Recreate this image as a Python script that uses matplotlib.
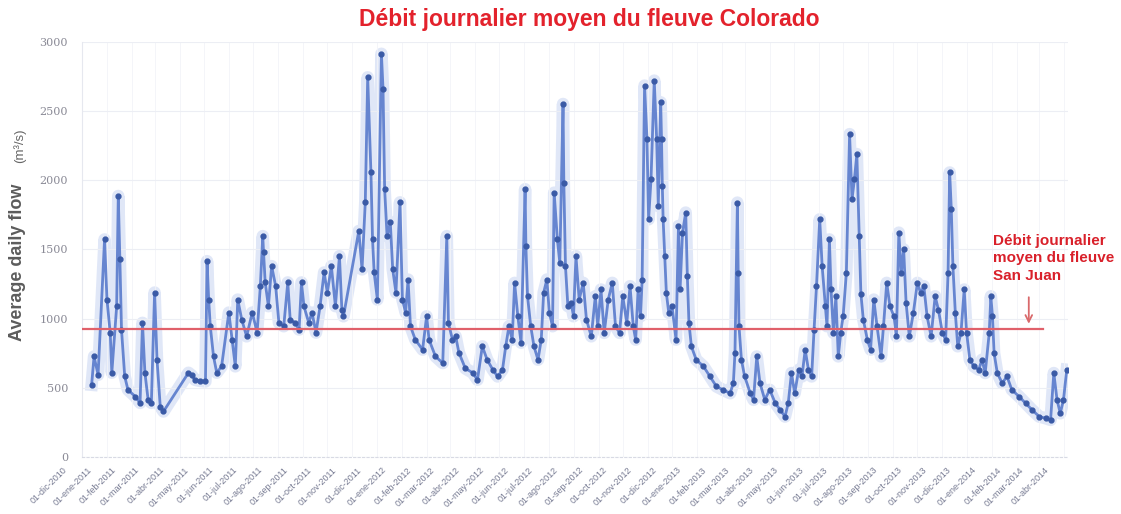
import matplotlib
matplotlib.use("Agg")
import matplotlib.pyplot as plt
import matplotlib.transforms as mtransforms
import pandas as pd

# Daily mean flow of the Colorado river, days counted from 1 Dec 2010
start = pd.Timestamp("2010-12-01")
flow_days = [
    12, 15, 20, 28, 31, 35, 37, 43, 45, 47, 49, 53, 57, 66, 72, 75, 78, 82, 86, 90,
    93, 97, 101, 132, 136, 140, 146, 153, 155, 157, 159, 163, 167, 173, 182, 186, 190, 193, 198, 204,
    211, 217, 221, 224, 225, 227, 231, 235, 240, 244, 250, 255, 258, 264, 269, 272, 275, 281, 285, 290,
    295, 300, 304, 309, 314, 319, 322, 324, 343, 347, 351, 354, 358, 360, 362, 366, 371, 373, 375, 378,
    382, 385, 389, 394, 397, 401, 404, 407, 413, 422, 427, 430, 438, 447, 452, 454, 459, 463, 467, 475,
    484, 490, 496, 502, 509, 515, 521, 525, 529, 533, 536, 540, 544, 549, 550, 552, 556, 560, 565, 569,
    572, 576, 579, 583, 585, 589, 592, 596, 597, 599, 602, 606, 609, 612, 616, 621, 625, 631, 636, 639,
    643, 647, 652, 657, 661, 666, 670, 675, 679, 683, 686, 689, 692, 694, 697, 700, 702, 705, 709, 712,
    714, 717, 718, 719, 720, 722, 724, 727, 731, 736, 739, 741, 744, 748, 750, 752, 755, 761, 770, 778,
    786, 794, 803, 807, 809, 812, 813, 814, 817, 821, 828, 832, 836, 840, 846, 852, 859, 865, 871, 875,
    879, 883, 888, 892, 896, 900, 904, 907, 910, 914, 917, 921, 923, 926, 928, 931, 934, 937, 940, 943,
    947, 951, 954, 957, 960, 963, 965, 968, 973, 977, 981, 985, 990, 993, 997, 1001, 1006, 1009, 1012, 1015,
    1018, 1021, 1025, 1030, 1035, 1039, 1043, 1047, 1052, 1057, 1061, 1066, 1070, 1073, 1075, 1077, 1079, 1082, 1085, 1089,
    1093, 1096, 1100, 1105, 1111, 1115, 1119, 1124, 1126, 1128, 1130, 1134, 1140, 1146, 1152, 1161, 1169, 1177, 1186, 1194,
    1200, 1204, 1208, 1212, 1216, 1220,
]
flow_values = [
    522, 727, 594, 1573, 1138, 899, 609, 1088, 1887, 1428, 921, 582, 486, 437, 391, 970, 609, 413, 391, 1189,
    703, 365, 329, 609, 590, 558, 550, 546, 1416, 1138, 945, 727, 609, 655, 1044, 848, 655, 1138, 993, 872,
    1044, 899, 1235, 1597, 1479, 1262, 1090, 1380, 1235, 970, 945, 1262, 993, 970, 921, 1262, 1090, 970, 1044, 899,
    1090, 1334, 1189, 1380, 1090, 1452, 1066, 1017, 1634, 1356, 1841, 2745, 2059, 1573, 1334, 1138, 2915, 2661, 1936, 1597,
    1697, 1356, 1189, 1841, 1138, 1044, 1283, 945, 848, 776, 1017, 848, 727, 679, 1597, 970, 848, 872, 754, 640,
    609, 558, 800, 703, 631, 582, 631, 800, 945, 848, 1259, 1017, 826, 1936, 1525, 1162, 945, 800, 703, 848,
    1189, 1283, 1044, 945, 1911, 1573, 1404, 2552, 1984, 1380, 1090, 1114, 1017, 1452, 1138, 1259, 993, 872, 1162, 945,
    1211, 897, 1138, 1259, 945, 897, 1162, 969, 1235, 945, 848, 1211, 1017, 1283, 2685, 2298, 1718, 2008, 2721, 2298,
    1815, 2564, 2298, 1960, 1718, 1452, 1186, 1041, 1090, 848, 1670, 1211, 1622, 1767, 1307, 969, 800, 703, 655, 582,
    510, 486, 461, 534, 752, 1839, 1332, 945, 703, 582, 461, 413, 727, 534, 413, 486, 389, 341, 292, 389,
    607, 461, 631, 582, 776, 631, 582, 921, 1235, 1718, 1380, 1090, 945, 1573, 1211, 897, 1162, 727, 897, 1017,
    1332, 2334, 1863, 2008, 2190, 1600, 1180, 993, 848, 776, 1138, 945, 727, 945, 1259, 1090, 1017, 872, 1622, 1332,
    1501, 1114, 872, 1041, 1259, 1186, 1235, 1017, 872, 1162, 1066, 897, 848, 1332, 2057, 1791, 1380, 1041, 800, 897,
    1211, 897, 703, 655, 631, 703, 607, 897, 1162, 1017, 752, 607, 534, 582, 486, 437, 389, 341, 292, 280,
    268, 607, 413, 316, 413, 631,
]

# Mean daily flow of the San Juan river (reference line)
san_juan_mean = 925
san_juan_end = "2014-03-05"
arrow_day = "2014-02-16"
arrow_from, arrow_to = 1175, 943

months_es = ["ene", "feb", "mar", "abr", "may", "jun",
             "jul", "ago", "sep", "oct", "nov", "dic"]
yticks = [0, 500, 1000, 1500, 2000, 2500, 3000]

dates = start + pd.to_timedelta(flow_days, unit="D")
month_ticks = pd.date_range("2010-12-01", "2014-04-01", freq="MS")
tick_labels = ["01-%s-%d" % (months_es[d.month - 1], d.year) for d in month_ticks]

plt.rcParams["font.family"] = ["Liberation Sans", "DejaVu Sans"]

fig = plt.figure(figsize=(11.21, 5.14), dpi=100)
ax = fig.add_axes([0.0731, 0.1109, 0.8792, 0.8074])

# soft halo, line and daily dots
ax.plot(dates, flow_values, color="#bccbef", lw=9, alpha=0.45,
        solid_joinstyle="round", zorder=1)
ax.plot(dates, flow_values, color="#6685d0", lw=2.0, zorder=2)
ax.plot(dates, flow_values, ls="none", marker="o", ms=3.5,
        color="#3a5aa6", zorder=3)

ax.plot([start, pd.Timestamp(san_juan_end)], [san_juan_mean, san_juan_mean],
        color="#e0606a", lw=1.6, zorder=4)
ax.annotate("", xy=(pd.Timestamp(arrow_day), arrow_to),
            xytext=(pd.Timestamp(arrow_day), arrow_from),
            arrowprops=dict(arrowstyle="->", color="#d9696b", lw=1.3,
                            mutation_scale=12), zorder=5)

ax.set_ylim(0, 3000)
ax.set_xlim(start, start + pd.Timedelta(days=1221))
ax.set_yticks(yticks)
ax.set_yticklabels([str(v) for v in yticks], color="#8a8a96", fontsize=8,
                   family="DejaVu Serif")
ax.set_xticks(month_ticks)
ax.set_xticklabels(tick_labels, rotation=45, ha="right",
                   rotation_mode="anchor", fontsize=6.5, color="#767a92")
ax.tick_params(axis="both", length=0)
ax.tick_params(axis="y", pad=10)
ax.tick_params(axis="x", pad=6)

# shift the rotated month labels a little to the left
shift = mtransforms.ScaledTranslation(-20 / 100, 0, fig.dpi_scale_trans)
for lab in ax.get_xticklabels():
    lab.set_transform(lab.get_transform() + shift)

ax.grid(axis="y", color="#eceef4", lw=0.8)
ax.grid(axis="x", color="#f3f4f8", lw=0.6)
for side in ["top", "right"]:
    ax.spines[side].set_visible(False)
ax.spines["left"].set_color("#e6e8ef")
ax.spines["bottom"].set_color("#d8dae4")
ax.spines["bottom"].set_linestyle((0, (2, 2)))

fig.text(0.526, 0.963, "Débit journalier moyen du fleuve Colorado",
         color="#e3222c", fontsize=16.5, fontweight="bold", ha="center", va="center")
fig.text(0.886, 0.498, "Débit journalier\nmoyen du fleuve\nSan Juan",
         color="#d9202a", fontsize=11, fontweight="bold", ha="left", va="center",
         linespacing=1.32)

fig.text(0.016, 0.49, "Average daily flow", rotation=90, color="#5c5c5c",
         fontsize=13, fontweight="bold", ha="center", va="center")
fig.text(0.018, 0.716, "(m³/s)", rotation=90, color="#666666",
         fontsize=9.5, ha="center", va="center")

fig.savefig("out.png", dpi=100)
